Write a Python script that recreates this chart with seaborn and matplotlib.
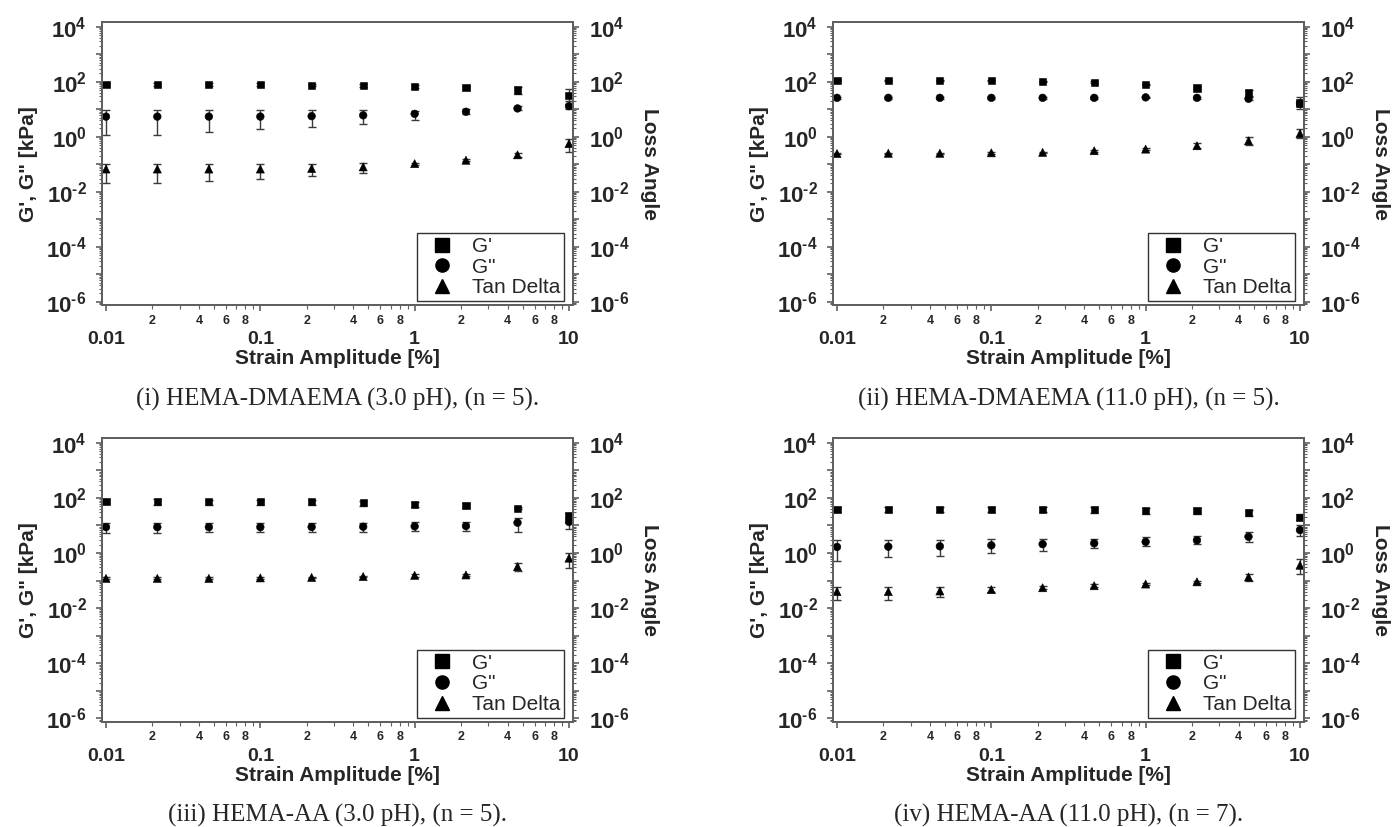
import numpy as np
import pandas as pd
import seaborn as sns
import matplotlib
matplotlib.use("Agg")
import matplotlib.pyplot as plt
from matplotlib.ticker import LogLocator, FixedLocator, FuncFormatter, NullFormatter
from matplotlib.lines import Line2D

# ---------------- data ----------------
STRAIN = [0.01, 0.0215, 0.0464, 0.1, 0.215, 0.464, 1.0, 2.15, 4.64, 10.0]
SERIES = ["G'", 'G"', "Tan Delta"]
CAPTIONS = ["(i) HEMA-DMAEMA (3.0 pH), (n = 5).",
            "(ii) HEMA-DMAEMA (11.0 pH), (n = 5).",
            "(iii) HEMA-AA (3.0 pH), (n = 5).",
            "(iv) HEMA-AA (11.0 pH), (n = 7)."]

# panel (i)
P1_GP = [79, 78, 77, 77, 75, 72, 66, 62, 50, 32]
P1_GP_LO = [70, 70, 70, 70, 68, 66, 60, 52, 35, 20]
P1_GP_HI = [88, 88, 87, 87, 85, 82, 75, 72, 62, 55]
P1_GPP = [5.4, 5.4, 5.4, 5.4, 5.6, 6.0, 6.8, 8.1, 10.7, 13.0]
P1_GPP_LO = [1.2, 1.2, 1.5, 1.9, 2.3, 3.0, 4.0, 6.8, 9.0, 10.5]
P1_GPP_HI = [9.3, 9.3, 9.3, 9.3, 9.0, 9.0, 8.8, 9.8, 12.8, 15.5]
P1_TD = [0.067, 0.067, 0.067, 0.067, 0.070, 0.080, 0.105, 0.14, 0.22, 0.56]
P1_TD_LO = [0.020, 0.020, 0.025, 0.028, 0.036, 0.050, 0.095, 0.13, 0.19, 0.27]
P1_TD_HI = [0.100, 0.100, 0.100, 0.100, 0.100, 0.110, 0.115, 0.15, 0.26, 0.82]

# panel (ii)
P2_GP = [112, 112, 112, 110, 100, 95, 80, 59, 40, 17]
P2_GP_LO = [105, 105, 105, 103, 94, 88, 74, 54, 30, 10]
P2_GP_HI = [120, 120, 120, 118, 107, 102, 86, 64, 48, 28]
P2_GPP = [26, 26, 26, 26, 26, 26, 27, 26, 24, 16]
P2_GPP_LO = [24, 24, 24, 24, 24, 24, 25, 24, 21, 13]
P2_GPP_HI = [28, 28, 28, 28, 28, 28, 29, 28, 27, 19]
P2_TD = [0.245, 0.25, 0.25, 0.26, 0.27, 0.31, 0.355, 0.47, 0.71, 1.3]
P2_TD_LO = [0.23, 0.235, 0.235, 0.245, 0.25, 0.28, 0.32, 0.38, 0.50, 0.90]
P2_TD_HI = [0.26, 0.265, 0.265, 0.275, 0.29, 0.34, 0.40, 0.58, 1.00, 1.90]

# panel (iii)
P3_GP = [76, 74, 74, 73, 72, 66, 59, 54, 41, 23]
P3_GP_LO = [58, 56, 56, 55, 55, 52, 46, 42, 38, 18]
P3_GP_HI = [88, 88, 87, 86, 85, 80, 72, 64, 45, 28]
P3_GPP = [8.7, 8.7, 8.7, 8.7, 8.8, 9.0, 9.3, 9.5, 12.6, 13.4]
P3_GPP_LO = [5.5, 5.5, 5.8, 5.8, 5.8, 6.0, 6.3, 6.3, 5.9, 7.2]
P3_GPP_HI = [12.5, 12.5, 12.5, 12.5, 12.5, 12.5, 13.0, 13.5, 19.0, 17.0]
P3_TD = [0.12, 0.12, 0.12, 0.125, 0.13, 0.14, 0.155, 0.16, 0.32, 0.65]
P3_TD_LO = [0.11, 0.11, 0.11, 0.115, 0.12, 0.13, 0.14, 0.145, 0.22, 0.28]
P3_TD_HI = [0.13, 0.13, 0.13, 0.135, 0.14, 0.15, 0.17, 0.175, 0.45, 1.00]

# panel (iv)
P4_GP = [38, 38, 38, 38, 38, 37, 36, 34, 29, 20]
P4_GP_LO = [32, 32, 32, 31, 30, 29, 27, 25, 22, 16]
P4_GP_HI = [45, 45, 45, 45, 45, 45, 44, 42, 35, 25]
P4_GPP = [1.66, 1.7, 1.75, 1.9, 2.1, 2.25, 2.55, 2.9, 3.9, 6.8]
P4_GPP_LO = [0.5, 0.7, 0.75, 1.0, 1.2, 1.5, 1.8, 2.2, 2.6, 4.0]
P4_GPP_HI = [3.0, 2.9, 3.0, 3.2, 3.2, 3.3, 3.9, 4.3, 5.8, 10.0]
P4_TD = [0.040, 0.040, 0.042, 0.047, 0.055, 0.065, 0.075, 0.090, 0.135, 0.36]
P4_TD_LO = [0.020, 0.020, 0.025, 0.038, 0.048, 0.058, 0.068, 0.080, 0.100, 0.17]
P4_TD_HI = [0.060, 0.060, 0.060, 0.058, 0.064, 0.074, 0.085, 0.100, 0.170, 0.60]

PANELS = [
    [(P1_GP, P1_GP_LO, P1_GP_HI), (P1_GPP, P1_GPP_LO, P1_GPP_HI), (P1_TD, P1_TD_LO, P1_TD_HI)],
    [(P2_GP, P2_GP_LO, P2_GP_HI), (P2_GPP, P2_GPP_LO, P2_GPP_HI), (P2_TD, P2_TD_LO, P2_TD_HI)],
    [(P3_GP, P3_GP_LO, P3_GP_HI), (P3_GPP, P3_GPP_LO, P3_GPP_HI), (P3_TD, P3_TD_LO, P3_TD_HI)],
    [(P4_GP, P4_GP_LO, P4_GP_HI), (P4_GPP, P4_GPP_LO, P4_GPP_HI), (P4_TD, P4_TD_LO, P4_TD_HI)],
]

# ---------------- style ----------------
sns.set_style("ticks")
plt.rcParams["font.family"] = ["Liberation Sans", "DejaVu Sans"]
plt.rcParams["mathtext.fontset"] = "custom"
plt.rcParams["mathtext.rm"] = "Liberation Sans:bold"
plt.rcParams["mathtext.it"] = "Liberation Sans:bold"
plt.rcParams["mathtext.bf"] = "Liberation Sans:bold"
plt.rcParams["mathtext.default"] = "rm"

SPINE = "#606060"
MARKERS = {"G'": "s", 'G"': "o", "Tan Delta": "^"}
MSIZE = {"G'": 27, 'G"': 30, "Tan Delta": 34}

W, H = 1392, 827
fig = plt.figure(figsize=(W / 100, H / 100), dpi=100)


def rect(l, r, t, b):
    return (l / W, 1 - b / H, (r - l) / W, (b - t) / H)


RECTS = [rect(102, 573, 22.3, 305), rect(833, 1304, 22.3, 305),
         rect(102, 573, 438.3, 721.7), rect(833, 1304, 438.3, 721.7)]
CAP_POS = [(337.5 / W, 1 - 399 / H), (1068.5 / W, 1 - 399 / H),
           (337.5 / W, 1 - 815 / H), (1068.5 / W, 1 - 815 / H)]

XLIM = (0.00942, 10.62)
YLIM = (7.6e-7, 1.45e4)
YMAJ = [10.0 ** e for e in range(-6, 5)]
HYPH = "\u2010"


def ylab(v, pos):
    e = int(round(np.log10(v)))
    if e % 2:
        return ""
    s = str(abs(e)) if e >= 0 else HYPH + str(abs(e))
    return r"$10^{%s}$" % s


def xminlab(v, pos):
    m = int(round(v / 10 ** np.floor(np.log10(v) + 1e-9)))
    return str(m) if m in (2, 4, 6, 8) else ""


def xmajlab(v, pos):
    return {0.01: "0.01", 0.1: "0.1", 1.0: "1", 10.0: "10"}.get(round(v, 4), "")


def style_y(a, side):
    a.set_yscale("log")
    a.set_ylim(*YLIM)
    a.yaxis.set_major_locator(FixedLocator(YMAJ))
    a.yaxis.set_major_formatter(FuncFormatter(ylab))
    a.yaxis.set_minor_locator(LogLocator(base=10, subs=np.arange(2, 10), numticks=30))
    a.yaxis.set_minor_formatter(NullFormatter())
    L = side == "left"
    a.tick_params(axis="y", which="major", direction="out", length=4.5, width=1.2,
                  color=SPINE, labelsize=16, pad=6.5 if L else 7,
                  left=L, right=not L, labelleft=L, labelright=not L)
    a.tick_params(axis="y", which="minor", direction="out", length=2.3, width=0.8,
                  color=SPINE, left=L, right=not L)


for i, rc in enumerate(RECTS):
    ax = fig.add_axes(rc)
    rows = []
    for name, (vals, lo, hi) in zip(SERIES, PANELS[i]):
        for x, v in zip(STRAIN, vals):
            rows.append({"strain": x, "value": v, "series": name})
    df = pd.DataFrame(rows)

    for name, (vals, lo, hi) in zip(SERIES, PANELS[i]):
        v = np.array(vals)
        err = np.vstack([v - np.array(lo), np.array(hi) - v])
        ax.errorbar(STRAIN, v, yerr=err, fmt="none", ecolor="#3a3a3a",
                    elinewidth=1.0, capsize=2.6, capthick=1.0, zorder=2)

    sns.scatterplot(data=df, x="strain", y="value", style="series",
                    markers=MARKERS, size="series", sizes=MSIZE,
                    color="black", edgecolor="black", linewidth=0.4,
                    legend=False, ax=ax, zorder=3)

    ax.set_xscale("log")
    ax.set_xlim(*XLIM)
    ax.xaxis.set_major_locator(FixedLocator([0.01, 0.1, 1, 10]))
    ax.xaxis.set_major_formatter(FuncFormatter(xmajlab))
    ax.xaxis.set_minor_locator(LogLocator(base=10, subs=np.arange(2, 10), numticks=30))
    ax.xaxis.set_minor_formatter(FuncFormatter(xminlab))
    ax.tick_params(axis="x", which="major", direction="out", length=4.5, width=1.2,
                   color=SPINE, labelsize=14, pad=14.5)
    ax.tick_params(axis="x", which="minor", direction="out", length=3, width=0.8,
                   color=SPINE, labelsize=9, pad=4)
    for lab in ax.xaxis.get_majorticklabels() + ax.xaxis.get_minorticklabels():
        lab.set_fontweight("bold")

    style_y(ax, "left")
    for sp in ax.spines.values():
        sp.set_color(SPINE)
        sp.set_linewidth(1.4)

    ax.set_xlabel("Strain Amplitude [%]", fontsize=15, fontweight="bold", labelpad=0.5)
    ax.set_ylabel('G\', G" [kPa]', fontsize=15, fontweight="bold", labelpad=5.5)

    ax2 = ax.twinx()
    style_y(ax2, "right")
    ax2.set_ylabel("Loss Angle", fontsize=15, fontweight="bold", rotation=270,
                   labelpad=21.5)
    for sp in ax2.spines.values():
        sp.set_color(SPINE)
        sp.set_linewidth(1.4)

    handles = [Line2D([], [], linestyle="none", marker=MARKERS[s], color="black",
                      markersize=9.5) for s in SERIES]
    leg = ax.legend(handles, SERIES, loc="lower right",
                    bbox_to_anchor=(0.9815, 0.014), borderaxespad=0,
                    fontsize=15, frameon=True, fancybox=False, edgecolor="black",
                    handletextpad=0.45, labelspacing=0.08, borderpad=0.18,
                    handlelength=2.0)
    leg.get_frame().set_linewidth(1.0)
    leg.set_zorder(5)

    fig.text(CAP_POS[i][0], CAP_POS[i][1], CAPTIONS[i], ha="center", va="center",
             fontsize=18, family=["Liberation Serif", "DejaVu Serif"])

fig.savefig("out.png", dpi=100)
